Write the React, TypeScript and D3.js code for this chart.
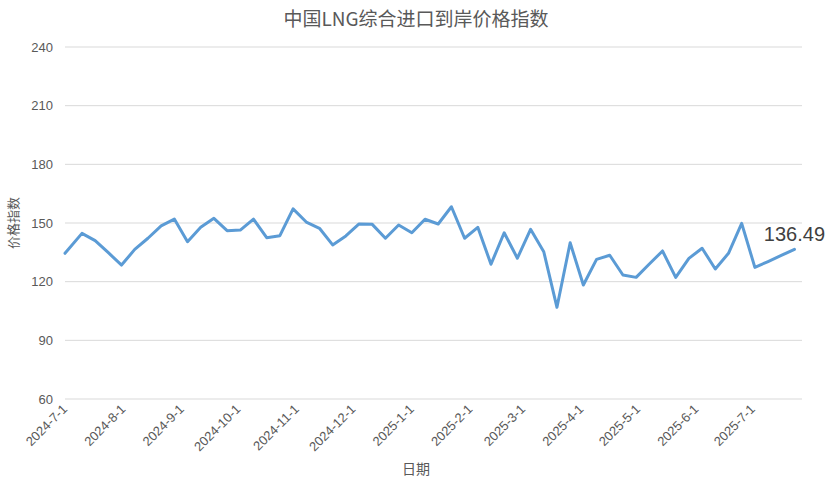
import React from "react";
import * as d3 from "d3";

// weekly observations (2024-07-01 first, then Wednesdays)
const dates: string[] = [
  "2024-07-01", "2024-07-10", "2024-07-17", "2024-07-24", "2024-07-31",
  "2024-08-07", "2024-08-14", "2024-08-21", "2024-08-28", "2024-09-04",
  "2024-09-11", "2024-09-18", "2024-09-25", "2024-10-02", "2024-10-09",
  "2024-10-16", "2024-10-23", "2024-10-30", "2024-11-06", "2024-11-13",
  "2024-11-20", "2024-11-27", "2024-12-04", "2024-12-11", "2024-12-18",
  "2024-12-25", "2025-01-01", "2025-01-08", "2025-01-15", "2025-01-22",
  "2025-01-29", "2025-02-05", "2025-02-12", "2025-02-19", "2025-02-26",
  "2025-03-05", "2025-03-12", "2025-03-19", "2025-03-26", "2025-04-02",
  "2025-04-09", "2025-04-16", "2025-04-23", "2025-04-30", "2025-05-07",
  "2025-05-14", "2025-05-21", "2025-05-28", "2025-06-04", "2025-06-11",
  "2025-06-18", "2025-06-25", "2025-07-02", "2025-07-09", "2025-07-16",
  "2025-07-23",
];

const values: number[] = [
  134.5, 144.7, 141.0, 134.8, 128.5,
  136.5, 142.2, 148.5, 152.0, 140.4,
  147.8, 152.4, 146.1, 146.4, 152.0,
  142.5, 143.5, 157.2, 150.5, 147.3,
  138.8, 143.4, 149.5, 149.3, 142.2,
  149.0, 145.0, 151.9, 149.5, 158.3,
  142.2, 147.8, 128.9, 145.0, 132.0,
  146.8, 135.3, 106.9, 139.9, 118.3,
  131.4, 133.5, 123.4, 122.2, 129.0,
  135.7, 122.2, 131.9, 137.1, 126.5,
  134.5, 149.8, 127.3, 130.3, 133.4,
  136.49,
];

const yTicks: number[] = [60, 90, 120, 150, 180, 210, 240];
const xTickLabels: string[] = [
  "2024-7-1", "2024-8-1", "2024-9-1", "2024-10-1", "2024-11-1", "2024-12-1",
  "2025-1-1", "2025-2-1", "2025-3-1", "2025-4-1", "2025-5-1", "2025-6-1",
  "2025-7-1",
];

const title = "中国LNG综合进口到岸价格指数";
const yTitle = "价格指数";
const xTitle = "日期";

const width = 832;
const height = 488;
const margin = { top: 47, right: 30, bottom: 89, left: 65 };

const parse = d3.timeParse("%Y-%m-%d");
const parseTick = d3.timeParse("%Y-%m-%d");

export default function App() {
  const data = dates.map((d, i) => ({ date: parse(d) as Date, value: values[i] }));

  const x = d3
    .scaleTime()
    .domain([parse("2024-07-01") as Date, parse("2025-07-27") as Date])
    .range([margin.left, width - margin.right]);

  const y = d3
    .scaleLinear()
    .domain([60, 240])
    .range([height - margin.bottom, margin.top]);

  const line = d3
    .line<{ date: Date; value: number }>()
    .x((d) => x(d.date))
    .y((d) => y(d.value));

  const last = data[data.length - 1];
  const font = "'Liberation Sans', Arial, sans-serif";
  const cjk = "'Noto Sans CJK SC', sans-serif";

  return (
    <svg
      width={width}
      height={height}
      style={{ position: "absolute", left: 0, top: 0, background: "#fff" }}
    >
      <text
        x={width / 2}
        y={26}
        textAnchor="middle"
        fontFamily={cjk}
        fontSize={19}
        fill="#595959"
      >
        {title}
      </text>

      {/* gridlines + y labels */}
      {yTicks.map((t) => (
        <g key={t}>
          <line
            x1={margin.left}
            x2={width - margin.right}
            y1={y(t)}
            y2={y(t)}
            stroke="#d9d9d9"
            strokeWidth={1}
          />
          <text
            x={53}
            y={y(t)}
            dy="0.35em"
            textAnchor="end"
            fontFamily={font}
            fontSize={13}
            fill="#595959"
          >
            {t}
          </text>
        </g>
      ))}

      {/* x labels */}
      {xTickLabels.map((l) => {
        const [yy, mm, dd] = l.split("-");
        const d = parseTick(`${yy}-${mm.padStart(2, "0")}-${dd.padStart(2, "0")}`) as Date;
        const tx = x(d) + 3;
        const ty = 410;
        return (
          <text
            key={l}
            transform={`translate(${tx},${ty}) rotate(-45)`}
            textAnchor="end"
            fontFamily={font}
            fontSize={13}
            fill="#595959"
          >
            {l}
          </text>
        );
      })}

      <path
        d={line(data) || ""}
        fill="none"
        stroke="#5b9bd5"
        strokeWidth={3}
        strokeLinejoin="round"
        strokeLinecap="round"
      />

      <text
        x={x(last.date)}
        y={y(last.value) - 8}
        textAnchor="middle"
        fontFamily={font}
        fontSize={20}
        fill="#404040"
      >
        {last.value.toFixed(2)}
      </text>

      <text
        transform={`translate(18,${(y(60) + y(240)) / 2}) rotate(-90)`}
        textAnchor="middle"
        fontFamily={cjk}
        fontSize={13}
        fill="#595959"
      >
        {yTitle}
      </text>

      <text
        x={width / 2}
        y={474}
        textAnchor="middle"
        fontFamily={cjk}
        fontSize={14}
        fill="#595959"
      >
        {xTitle}
      </text>
    </svg>
  );
}
